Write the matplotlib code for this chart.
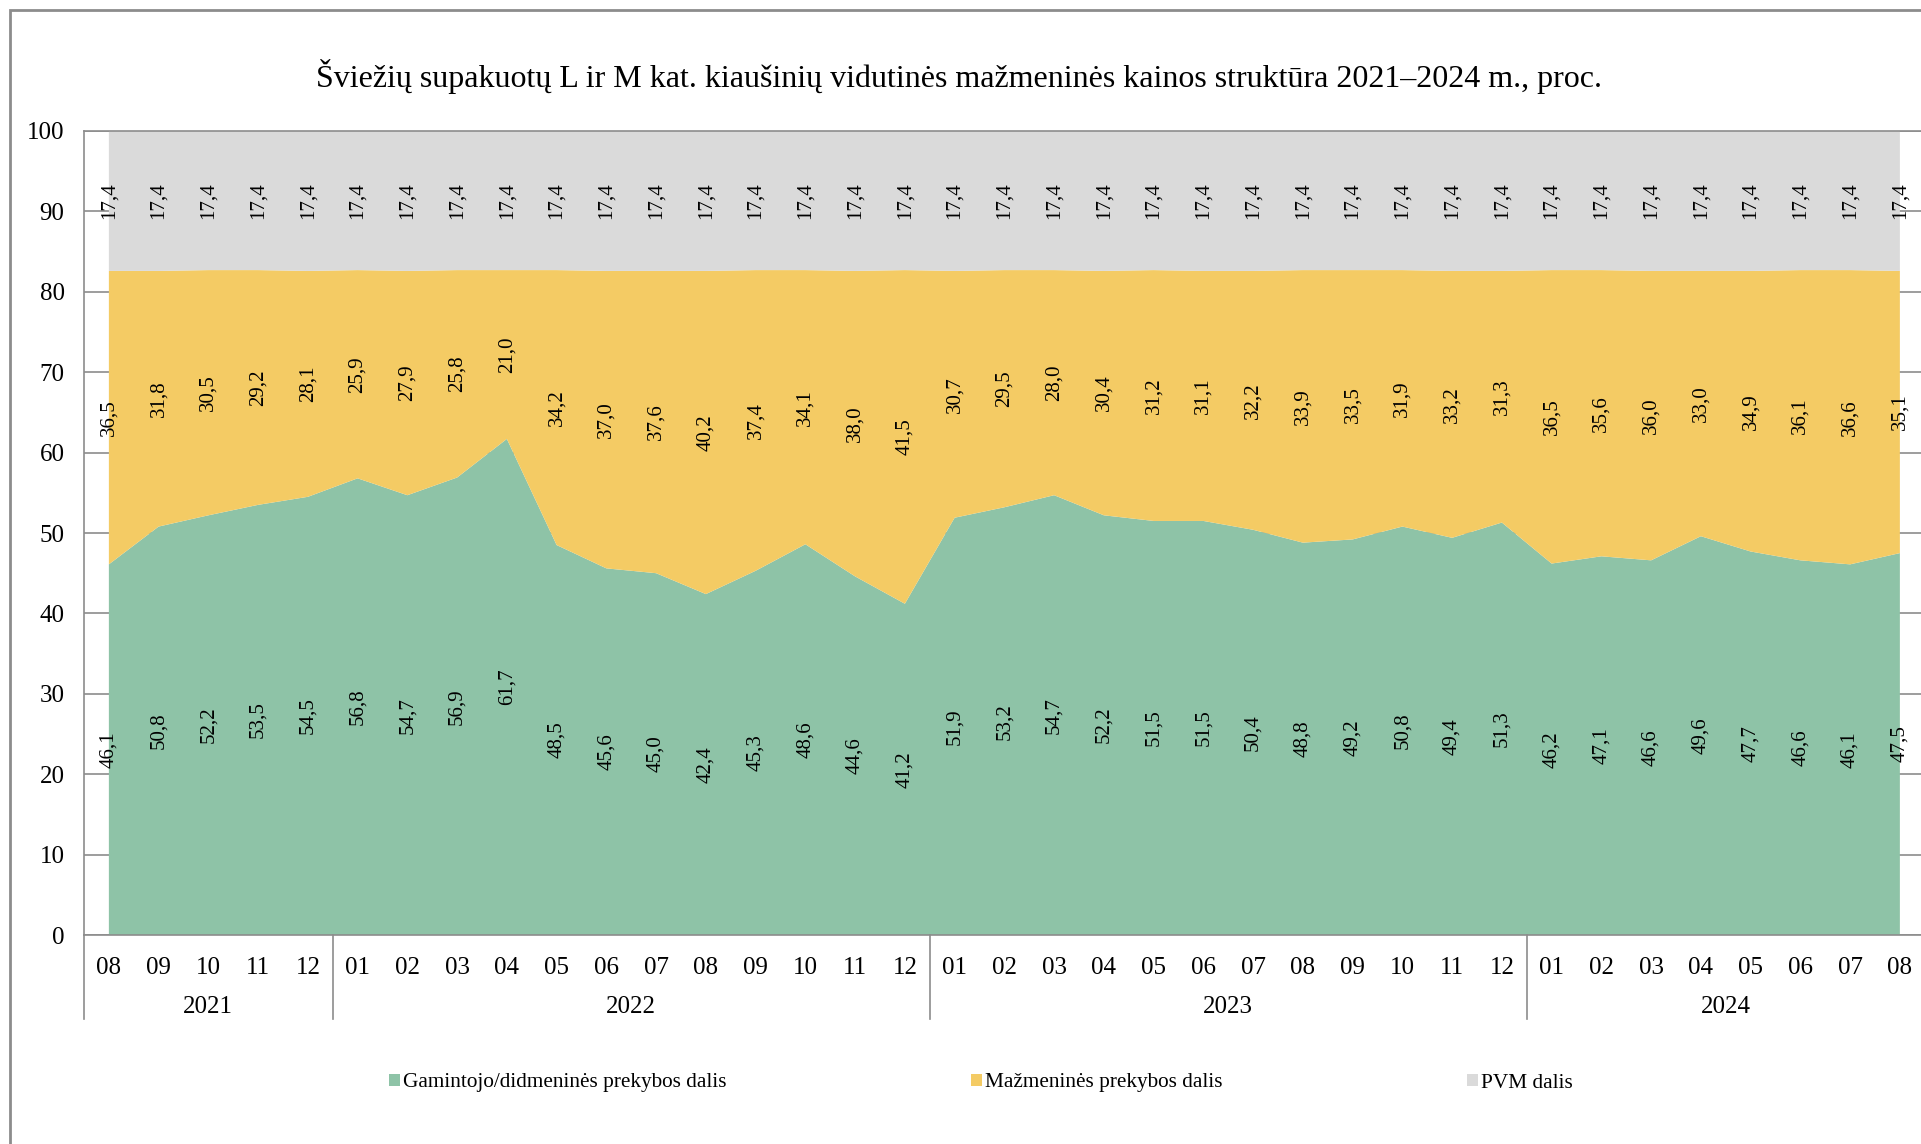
import numpy as np
import matplotlib.pyplot as plt
from matplotlib.patches import Rectangle, Patch
from matplotlib.lines import Line2D

plt.rcParams['font.family'] = ['Liberation Serif', 'DejaVu Serif']

# --- data ---
years = ['2021', '2022', '2023', '2024']
months = ['08', '09', '10', '11', '12',
          '01', '02', '03', '04', '05', '06', '07', '08', '09', '10', '11', '12',
          '01', '02', '03', '04', '05', '06', '07', '08', '09', '10', '11', '12',
          '01', '02', '03', '04', '05', '06', '07', '08']
months_per_year = [5, 12, 12, 8]

gamintojo = [46.1, 50.8, 52.2, 53.5, 54.5,
             56.8, 54.7, 56.9, 61.7, 48.5, 45.6, 45.0, 42.4, 45.3, 48.6, 44.6, 41.2,
             51.9, 53.2, 54.7, 52.2, 51.5, 51.5, 50.4, 48.8, 49.2, 50.8, 49.4, 51.3,
             46.2, 47.1, 46.6, 49.6, 47.7, 46.6, 46.1, 47.5]
mazmenines = [36.5, 31.8, 30.5, 29.2, 28.1,
              25.9, 27.9, 25.8, 21.0, 34.2, 37.0, 37.6, 40.2, 37.4, 34.1, 38.0, 41.5,
              30.7, 29.5, 28.0, 30.4, 31.2, 31.1, 32.2, 33.9, 33.5, 31.9, 33.2, 31.3,
              36.5, 35.6, 36.0, 33.0, 34.9, 36.1, 36.6, 35.1]
pvm = [17.4] * 37

series_names = ['Gamintojo/didmeninės prekybos dalis', 'Mažmeninės prekybos dalis', 'PVM dalis']
colors = ['#8EC3A7', '#F4CB64', '#DADADA']
title = 'Šviežių supakuotų L ir M kat. kiaušinių vidutinės mažmeninės kainos struktūra 2021–2024 m., proc.'

W, H = 1921, 1144
fig = plt.figure(figsize=(W / 100, H / 100), dpi=100)

# plot area: left spine at x=84, bottom at y=935, top at y=131, step ~49.8 px
n = len(months)
step = (1900 - 109) / (n - 1)
ax_left = 84
ax_w = step * n
ax = fig.add_axes([ax_left / W, (H - 935) / H, ax_w / W, (935 - 131) / H])

x = np.arange(n)
ax.stackplot(x, gamintojo, mazmenines, pvm, colors=colors, linewidth=0, zorder=2)

ax.set_xlim(-0.5, n - 0.5)
ax.set_ylim(0, 100)
ax.set_yticks(range(0, 101, 10))
ax.yaxis.grid(True, color='#8c8c8c', linewidth=1.2, zorder=0)
ax.set_axisbelow(True)
ax.tick_params(axis='y', length=0, labelsize=18, pad=14)
ax.tick_params(axis='x', length=0, labelbottom=False)
ax.spines['right'].set_visible(False)
for s in ['left', 'bottom', 'top']:
    ax.spines[s].set_color('#8c8c8c')
    ax.spines[s].set_linewidth(1.2)

# data labels, rotated, centred in each band
bottoms = np.zeros(n)
for vals in (gamintojo, mazmenines, pvm):
    v = np.array(vals)
    for i in range(n):
        ax.text(x[i], bottoms[i] + v[i] / 2, f'{v[i]:.1f}'.replace('.', ','),
                rotation=90, ha='center', va='center', fontsize=15, zorder=5)
    bottoms = bottoms + v

# month and year labels
tr = ax.get_xaxis_transform()
for i, m in enumerate(months):
    ax.text(x[i], -0.041, m, transform=tr, ha='center', va='center', fontsize=18, clip_on=False)

start = 0
sep_bottom = -(1019 - 935) / (935 - 131)
ax.add_line(Line2D([-0.5, -0.5], [0, sep_bottom], transform=tr, color='#8c8c8c',
                   linewidth=1.2, clip_on=False))
for yr, cnt in zip(years, months_per_year):
    mid = start + (cnt - 1) / 2
    ax.text(mid, -0.089, yr, transform=tr, ha='center', va='center', fontsize=18, clip_on=False)
    end = start + cnt - 0.5
    if end < n - 0.5:
        ax.add_line(Line2D([end, end], [0, sep_bottom], transform=tr, color='#8c8c8c',
                           linewidth=1.2, clip_on=False))
    start += cnt

fig.text(959 / W, 1 - 76 / H, title, ha='center', va='center', fontsize=23)

handles = [Patch(facecolor=c, edgecolor='none') for c in colors]
fig.legend(handles, series_names, loc='center left', bbox_to_anchor=(389 / W, 1 - 1083 / H),
           ncol=3, frameon=False, fontsize=15.3, handlelength=0.52, handleheight=0.52,
           handletextpad=0.15, columnspacing=11.5, borderpad=0, borderaxespad=0)

# outer chart border (cut off at right and bottom)
fig.add_artist(Rectangle((9.5 / W, -0.05), 1.1, 1 - 10 / H + 0.05, transform=fig.transFigure,
                         fill=False, edgecolor='#8c8c8c', linewidth=2))

fig.savefig('out.png', dpi=100)
